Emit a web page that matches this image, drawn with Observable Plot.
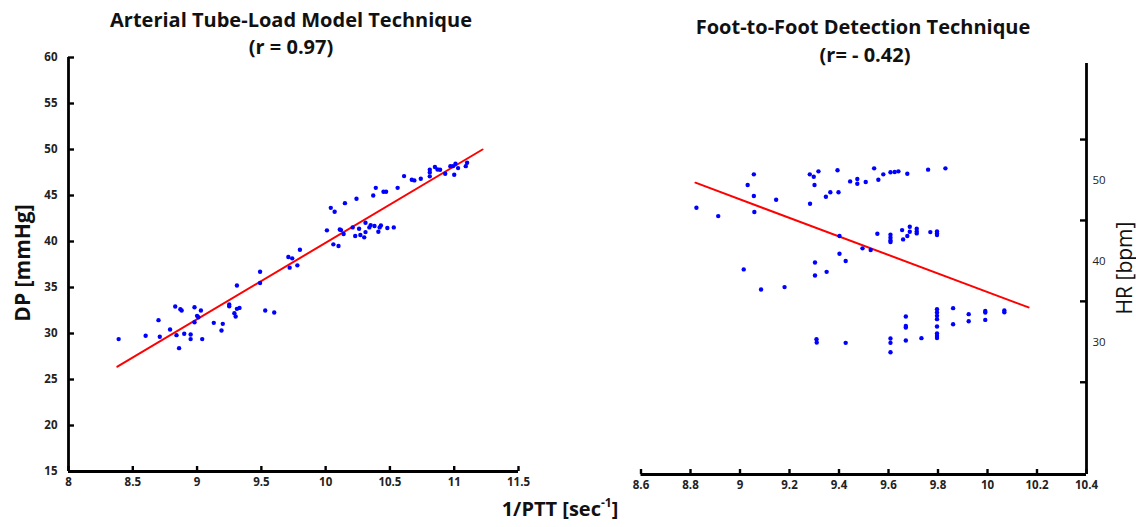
<!DOCTYPE html>
<html>
<head>
<meta charset="utf-8">
<script src="https://cdn.jsdelivr.net/npm/d3@7"></script>
<script src="https://cdn.jsdelivr.net/npm/@observablehq/plot@0.6"></script>
<style>
  html, body { margin: 0; padding: 0; background: #fff; }
  #wrap { position: relative; width: 1136px; height: 527px; overflow: hidden; font-family: "Open Sans", Lato, sans-serif; color: #111; }
  .panel { position: absolute; top: 0; }
  .t { position: absolute; white-space: nowrap; transform: translateX(-50%); font-weight: bold; font-size: 20px; line-height: 1; }
  .rot { position: absolute; white-space: nowrap; transform: translate(-50%, -50%) rotate(-90deg); font-size: 21px; line-height: 1; }
</style>
</head>
<body>
<div id="wrap"></div>
<script>
// ---- Left panel: Arterial Tube-Load Model Technique ----
const leftX = [
  8.39, 8.60, 8.71, 8.70, 8.79, 8.83, 8.84, 8.87, 8.88, 8.90,
  8.86, 8.95, 8.95, 8.98, 8.98, 9.00, 9.01, 9.03, 9.04, 9.13,
  9.19, 9.20, 9.25, 9.25, 9.29, 9.30, 9.31, 9.31, 9.33, 9.49,
  9.49, 9.53, 9.60, 9.71, 9.72, 9.74, 9.78, 9.80, 10.01, 10.04,
  10.07, 10.06, 10.10, 10.11, 10.12, 10.14, 10.15, 10.21, 10.23, 10.24,
  10.26, 10.27, 10.30, 10.31, 10.31, 10.34, 10.35, 10.37, 10.39, 10.38,
  10.41, 10.42, 10.43, 10.45, 10.47, 10.48, 10.53, 10.56, 10.61, 10.67,
  10.69, 10.74, 10.81, 10.81, 10.81, 10.85, 10.87, 10.89, 10.93, 10.97,
  10.99, 11.00, 11.01, 11.03, 11.09, 11.10
];
const leftY = [
  29.39, 29.75, 29.64, 31.45, 30.44, 32.93, 29.82, 32.64, 32.50, 29.97,
  28.41, 29.89, 29.39, 31.23, 32.86, 31.92, 31.77, 32.50, 29.39, 31.16,
  30.33, 31.05, 32.97, 33.15, 32.21, 31.85, 35.21, 32.68, 32.78, 36.72,
  35.49, 32.50, 32.28, 38.31, 37.16, 38.17, 37.41, 39.11, 41.21, 43.66,
  43.23, 39.69, 39.51, 41.31, 41.24, 40.81, 44.17, 41.53, 40.59, 44.64,
  41.39, 40.70, 40.45, 41.02, 42.04, 41.53, 41.78, 45.00, 45.83, 41.68,
  41.06, 41.53, 41.75, 45.40, 45.40, 41.46, 41.53, 45.83, 47.11, 46.71,
  46.64, 46.82, 47.80, 47.51, 47.08, 48.09, 47.83, 47.80, 47.36, 48.19,
  48.19, 47.26, 48.45, 47.98, 48.19, 48.56
];
const leftFitX = [8.38, 11.22];
const leftFitY = [26.4, 50.0];
const leftXDomain = [8, 11.5];
const leftYDomain = [15, 60];
const leftXTicks = [8, 8.5, 9, 9.5, 10, 10.5, 11, 11.5];
const leftYTicks = [15, 20, 25, 30, 35, 40, 45, 50, 55, 60];

// ---- Right panel: Foot-to-Foot Detection Technique ----
const rightX = [
  9.056, 9.031, 9.056, 9.058, 8.824, 8.912, 9.146, 9.282, 9.298, 9.317,
  9.301, 9.283, 9.347, 9.365, 9.394, 9.398, 9.445, 9.474, 9.474, 9.508,
  9.542, 9.559, 9.579, 9.608, 9.625, 9.640, 9.676, 9.760, 9.830,
  9.015, 9.085, 9.180, 9.303, 9.303, 9.350, 9.402, 9.402, 9.427, 9.495,
  9.528, 9.555, 9.608, 9.608, 9.608, 9.608, 9.655, 9.686, 9.686, 9.676,
  9.659, 9.714, 9.714, 9.714, 9.769, 9.796, 9.796, 9.796,
  9.309, 9.310, 9.427, 9.608, 9.608, 9.608, 9.670, 9.670, 9.670, 9.670,
  9.733, 9.796, 9.796, 9.796, 9.796, 9.796, 9.796, 9.796, 9.796, 9.861,
  9.861, 9.924, 9.924, 9.991, 9.991, 9.991, 10.068, 10.068
];
const rightY = [
  50.70, 49.38, 48.02, 46.04, 46.57, 45.54, 47.56, 50.70, 50.41, 51.07,
  49.38, 47.07, 47.93, 48.48, 51.20, 48.48, 49.83, 50.12, 49.54, 49.75,
  51.44, 50.04, 50.70, 50.95, 50.99, 51.07, 50.78, 51.28, 51.44,
  38.95, 36.47, 36.76, 39.81, 38.20, 38.65, 43.07, 40.88, 39.98, 41.55,
  41.34, 43.36, 43.23, 42.86, 42.53, 42.33, 43.81, 44.22, 43.60, 43.07,
  42.66, 43.97, 43.65, 43.40, 43.56, 43.65, 43.40, 43.19,
  30.32, 29.91, 29.87, 30.41, 29.87, 28.71, 33.13, 31.97, 31.77, 30.16,
  30.45, 34.03, 33.62, 33.21, 32.80, 31.89, 31.03, 30.73, 30.48, 34.16,
  32.18, 33.42, 32.55, 33.82, 33.62, 32.71, 33.87, 33.66
];
const rightFitX = [8.82, 10.166];
const rightFitY = [49.67, 34.25];
const rightXDomain = [8.6, 10.4];
const rightYDomain = [13.6, 64.4];
const rightXTicks = [8.6, 8.8, 9, 9.2, 9.4, 9.6, 9.8, 10, 10.2, 10.4];
const rightYTickMarks = [25, 35, 45, 55];
const rightYLabels = [30, 40, 50];

const zip = (xs, ys) => xs.map((x, i) => ({x, y: ys[i]}));
const blue = "#0000ff", red = "#ff0000", axisColor = "#000", labelColor = "#222";
const font = "'Open Sans', Lato, sans-serif";
const tickLen = 5, axisW = 2.8, tickW = 2.4;

function panel({width, marginLeft, marginRight, marginTop, marginBottom, xDomain, yDomain,
                xTicks, yTickMarks, yLabels, yAnchor, yLabelWeight, yPadding, fitX, fitY, xs, ys}) {
  const height = 527;
  const fw = width - marginLeft - marginRight;
  const fh = height - marginTop - marginBottom;
  const yAxisValue = yAnchor === "left" ? xDomain[0] : xDomain[1];
  return Plot.plot({
    width, height, marginLeft, marginRight, marginTop, marginBottom,
    style: {fontFamily: font, color: labelColor, background: "transparent", overflow: "visible"},
    x: {domain: xDomain},
    y: {domain: yDomain},
    marks: [
      // inward tick marks
      Plot.tickX(xTicks, {x: d => d, insetTop: fh - tickLen, stroke: axisColor, strokeWidth: tickW}),
      Plot.tickY(yTickMarks, {y: d => d, [yAnchor === "left" ? "insetRight" : "insetLeft"]: fw - tickLen - 1, stroke: axisColor, strokeWidth: tickW}),
      // tick labels
      Plot.axisX(xTicks, {tickSize: 0, tickPadding: 6, tickFormat: d => String(d), label: null, fontWeight: "bold", fontSize: 11.5}),
      Plot.axisY(yLabels, {anchor: yAnchor, tickSize: 0, tickPadding: yPadding, tickFormat: d => String(d), label: null, fontWeight: yLabelWeight, fontSize: 11.5}),
      // axis lines
      Plot.ruleY([yDomain[0]], {stroke: axisColor, strokeWidth: axisW}),
      Plot.ruleX([yAxisValue], {stroke: axisColor, strokeWidth: axisW}),
      // data
      Plot.line(zip(fitX, fitY), {x: "x", y: "y", stroke: red, strokeWidth: 2}),
      Plot.dot(zip(xs, ys), {x: "x", y: "y", r: 2.2, fill: blue, stroke: "none"})
    ]
  });
}

const left = panel({
  width: 560, marginLeft: 68, marginRight: 42, marginTop: 57, marginBottom: 56,
  xDomain: leftXDomain, yDomain: leftYDomain, xTicks: leftXTicks,
  yTickMarks: leftYTicks, yLabels: leftYTicks, yAnchor: "left", yLabelWeight: "bold", yPadding: 11,
  fitX: leftFitX, fitY: leftFitY, xs: leftX, ys: leftY
});
const right = panel({
  width: 576, marginLeft: 80.5, marginRight: 50, marginTop: 63, marginBottom: 53,
  xDomain: rightXDomain, yDomain: rightYDomain, xTicks: rightXTicks,
  yTickMarks: rightYTickMarks, yLabels: rightYLabels, yAnchor: "right", yLabelWeight: "normal", yPadding: 6,
  fitX: rightFitX, fitY: rightFitY, xs: rightX, ys: rightY
});

const wrap = document.getElementById("wrap");
left.classList.add("panel"); left.style.left = "0px";
right.classList.add("panel"); right.style.left = "560px";
wrap.appendChild(left);
wrap.appendChild(right);

function addText(html, cls, x, y, extra) {
  const d = document.createElement("div");
  d.className = cls;
  d.innerHTML = html;
  d.style.left = x + "px";
  d.style.top = y + "px";
  if (extra) Object.assign(d.style, extra);
  wrap.appendChild(d);
}
addText("Arterial Tube-Load Model Technique", "t", 291, 10);
addText("(r = 0.97)", "t", 291, 37);
addText("Foot-to-Foot Detection Technique", "t", 863, 17);
addText("(r= - 0.42)", "t", 865, 45);
addText("DP [mmHg]", "rot", 22, 263, {fontWeight: "bold"});
addText("HR [bpm]", "rot", 1124, 268, {fontWeight: "normal"});
addText("1/PTT [sec<sup style='font-size:12px;vertical-align:9px;line-height:0'>-1</sup>]", "t", 560, 499, {fontSize: "20px"});
</script>
</body>
</html>
